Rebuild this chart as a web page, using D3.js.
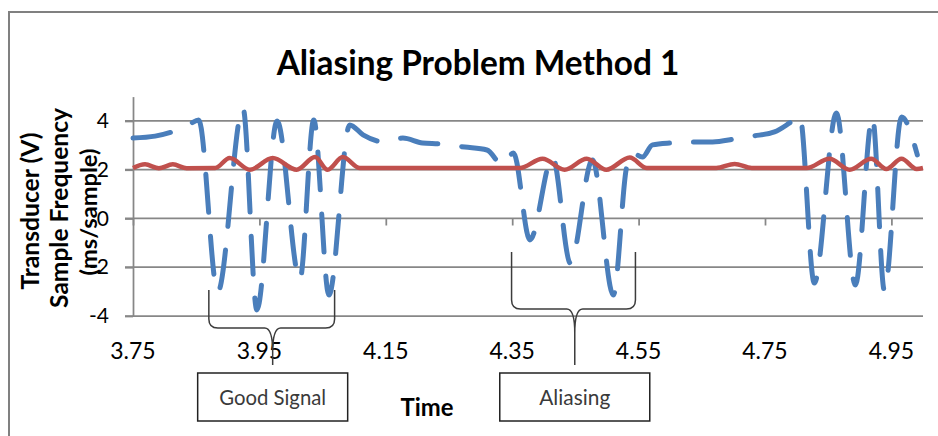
<!DOCTYPE html>
<html>
<head>
<meta charset="utf-8">
<title>Aliasing Problem Method 1</title>
<script src="https://d3js.org/d3.v7.min.js"></script>
<style>
    body { margin: 0; background: #fff; }
    svg { display: block; font-family: Lato, "Liberation Sans", sans-serif; }
</style>
</head>
<body>
<svg width="938" height="436"></svg>
<script>
    // transducer signal (blue, dashed)
    var sigTime = [3.750, 3.785, 3.816, 3.840, 3.854, 3.884, 3.924, 3.946, 3.978, 4.014, 4.036, 4.060, 4.093,
                   4.114, 4.148, 4.177, 4.208, 4.235, 4.275, 4.310, 4.335, 4.352, 4.378, 4.414, 4.442, 4.477,
                   4.510, 4.531, 4.540, 4.556, 4.572, 4.602, 4.631, 4.667, 4.702, 4.730, 4.765, 4.789, 4.805,
                   4.828, 4.863, 4.893, 4.920, 4.939, 4.966, 4.991];
    var transducer = [3.30, 3.38, 3.59, 3.88, 4.04, -3.02, 4.53, -3.75, 4.00, -2.52, 4.04, -3.14, 3.84,
                      3.43, 3.14, 3.30, 3.10, 3.06, 2.93, 2.81, 2.19, 2.69, -0.88, 2.52, -1.83, 2.40,
                      -3.14, 2.11, 2.69, 2.52, 3.02, 3.10, 3.14, 3.14, 3.26, 3.38, 3.55, 3.92, 4.21,
                      -2.65, 4.33, -2.73, 4.16, -2.97, 4.16, 2.61];

    // sample frequency (red)
    var freqTime = [3.750, 3.769, 3.791, 3.813, 3.835, 3.880, 3.903, 3.935, 3.971, 4.009, 4.038, 4.058, 4.082,
                    4.109, 4.362, 4.398, 4.433, 4.468, 4.499, 4.536, 4.563, 4.673, 4.702, 4.729, 4.816,
                    4.852, 4.884, 4.918, 4.942, 4.966, 4.990, 5.000];
    var sampleFreq = [2.07, 2.22, 2.06, 2.22, 2.06, 2.07, 2.48, 2.00, 2.48, 2.00, 2.52, 2.00, 2.52,
                      2.07, 2.07, 2.45, 2.00, 2.45, 2.00, 2.50, 2.07, 2.07, 2.24, 2.07, 2.07,
                      2.45, 2.00, 2.45, 2.03, 2.45, 2.03, 2.07];

    var xTicks = [3.75, 3.95, 4.15, 4.35, 4.55, 4.75, 4.95];
    var yTicks = [-4, -2, 0, 2, 4];

    // annotations: brace spans in time units, box label under the tip
    var notes = [
        {label: "Good Signal", t0: 3.870, t1: 4.069, tip: 3.971, top: 290, bar: 328},
        {label: "Aliasing",    t0: 4.349, t1: 4.545, tip: 4.449, top: 252, bar: 309}
    ];

    var svg = d3.select("svg");
    var x = d3.scaleLinear().domain([3.75, 5.0]).range([133, 923]);
    var y = d3.scaleLinear().domain([-4, 5]).range([316, 96.6]);
    var grey = "#878787";

    function fit(t, w) {
        var len = t.node().getComputedTextLength();
        var fs = parseFloat(t.style("font-size"));
        t.style("font-size", (fs * w / len) + "px");
        return t;
    }

    // chart frame
    svg.append("rect")
        .attr("x", 9).attr("y", 12).attr("width", 1200).attr("height", 800)
        .attr("fill", "none").attr("stroke", "#808080").attr("stroke-width", 2);

    // gridlines
    svg.append("g").selectAll("line")
        .data(yTicks)
        .enter().append("line")
        .attr("x1", 125).attr("x2", x(5.0))
        .attr("y1", function(d) { return y(d); })
        .attr("y2", function(d) { return y(d); })
        .attr("stroke", grey).attr("stroke-width", 1.75);

    // Y axis
    var yAxis = svg.append("g")
        .attr("transform", "translate(" + x(3.75) + ",0)")
        .call(d3.axisLeft(y).tickValues(yTicks).tickSize(8).tickSizeOuter(0).tickPadding(16)
            .tickFormat(function(d) { return String(d); }));
    yAxis.select(".domain").attr("stroke", grey).attr("stroke-width", 1.75);
    yAxis.selectAll(".tick line").attr("stroke", grey).attr("stroke-width", 1.75);
    yAxis.selectAll("text").attr("font-size", 21).attr("font-family", "Lato").attr("fill", "#000");

    // X axis crossing at zero (ticks only), labels at the bottom
    var xAxis = svg.append("g")
        .attr("transform", "translate(0," + y(0) + ")")
        .call(d3.axisBottom(x).tickValues(xTicks).tickSize(7).tickSizeOuter(0).tickFormat(""));
    xAxis.select(".domain").attr("stroke", "none");
    xAxis.selectAll(".tick line").attr("stroke", grey).attr("stroke-width", 1.75);

    svg.append("g").selectAll("text")
        .data(xTicks)
        .enter().append("text")
        .attr("x", function(d) { return x(d); })
        .attr("y", 359)
        .attr("text-anchor", "middle")
        .attr("font-size", 23)
        .text(d3.format(".2f"));

    // series
    var sig = sigTime.map(function(t, i) { return [t, transducer[i]]; });
    var freq = freqTime.map(function(t, i) { return [t, sampleFreq[i]]; });
    var line = d3.line()
        .x(function(d) { return x(d[0]); })
        .y(function(d) { return y(d[1]); })
        .curve(d3.curveMonotoneX);

    svg.append("path")
        .datum(sig)
        .attr("d", line)
        .attr("fill", "none")
        .attr("stroke", "#4a7ebb")
        .attr("stroke-width", 5)
        .attr("stroke-linecap", "round")
        .attr("stroke-linejoin", "round")
        .attr("stroke-dasharray", "38 24");

    svg.append("path")
        .datum(freq)
        .attr("d", line)
        .attr("fill", "none")
        .attr("stroke", "#c0504d")
        .attr("stroke-width", 4.5)
        .attr("stroke-linejoin", "round");

    // title and axis titles
    fit(svg.append("text")
        .attr("x", 478).attr("y", 75)
        .attr("text-anchor", "middle")
        .attr("font-weight", "bold").attr("font-size", 34)
        .text("Aliasing Problem Method 1"), 403);

    fit(svg.append("text")
        .attr("transform", "translate(39,211) rotate(-90)")
        .attr("text-anchor", "middle")
        .attr("font-weight", "bold").attr("font-size", 22)
        .text("Transducer (V)"), 157);

    fit(svg.append("text")
        .attr("transform", "translate(68,208) rotate(-90)")
        .attr("text-anchor", "middle")
        .attr("font-weight", "bold").attr("font-size", 22)
        .text("Sample Frequency"), 200);

    fit(svg.append("text")
        .attr("transform", "translate(97,212) rotate(-90)")
        .attr("text-anchor", "middle")
        .attr("font-weight", "bold").attr("font-size", 22)
        .text("(ms/sample)"), 127);

    fit(svg.append("text")
        .attr("x", 427).attr("y", 416)
        .attr("text-anchor", "middle")
        .attr("font-weight", "bold").attr("font-size", 23)
        .text("Time"), 53);

    // braces and callout boxes
    var tipEnd = 365, r = 9;
    var ann = svg.append("g").selectAll("g")
        .data(notes)
        .enter().append("g");

    ann.append("path")
        .attr("d", function(d) {
            var a = x(d.t0), b = x(d.t1), m = x(d.tip);
            return "M" + a + "," + d.top + "L" + a + "," + (d.bar - r) +
                "Q" + a + "," + d.bar + " " + (a + r) + "," + d.bar +
                "L" + (m - 8) + "," + d.bar +
                "Q" + m + "," + d.bar + " " + m + "," + (d.bar + 24) +
                "L" + m + "," + tipEnd +
                "M" + b + "," + d.top + "L" + b + "," + (d.bar - r) +
                "Q" + b + "," + d.bar + " " + (b - r) + "," + d.bar +
                "L" + (m + 8) + "," + d.bar +
                "Q" + m + "," + d.bar + " " + m + "," + (d.bar + 24);
        })
        .attr("fill", "none")
        .attr("stroke", "#3c3c3c")
        .attr("stroke-width", 1.5);

    ann.append("rect")
        .attr("x", function(d) { return x(d.tip) - 75; })
        .attr("y", 373)
        .attr("width", 150).attr("height", 48)
        .attr("fill", "#fff")
        .attr("stroke", "#222").attr("stroke-width", 1.5);

    ann.append("text")
        .attr("x", function(d) { return x(d.tip); })
        .attr("y", 405)
        .attr("text-anchor", "middle")
        .attr("font-size", 20)
        .attr("fill", "#3a3a3a")
        .text(function(d) { return d.label; })
        .each(function(d) { fit(d3.select(this), d.label === "Aliasing" ? 71 : 107); });
</script>
</body>
</html>
